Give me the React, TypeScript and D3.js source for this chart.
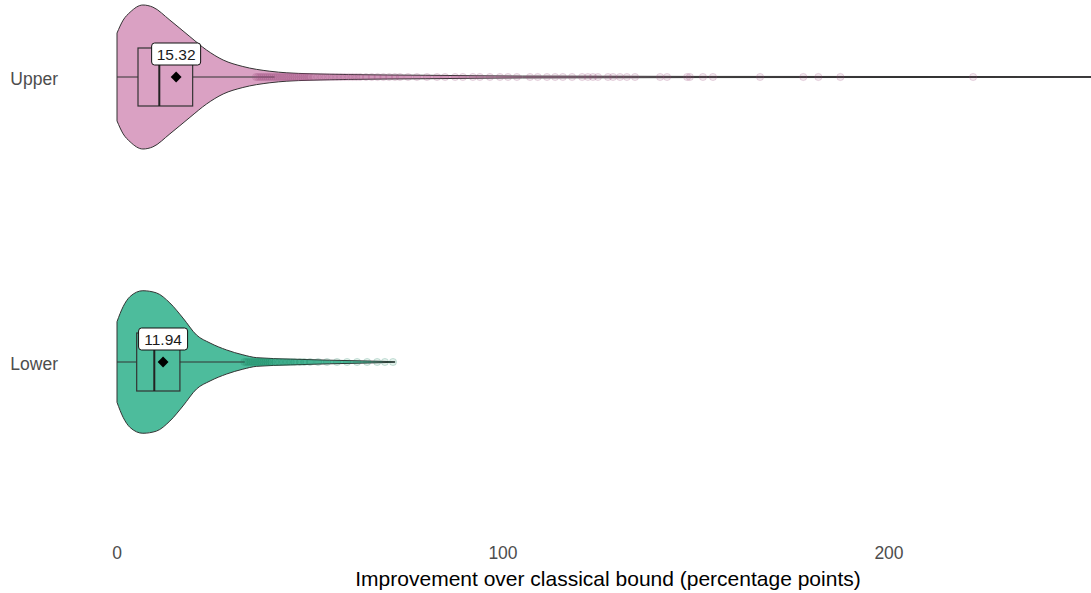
import { useEffect, useRef } from 'react';
import * as d3 from 'd3';

// groups, top to bottom
const groups = ['Upper', 'Lower'];
const fills = ['#daa1c3', '#4dbc9c'];
const pointColors = ['#9b4a7b', '#17805f'];

// density profiles: [improvement, relative density]
const upperDensity: [number, number][] = [
  [0, 0.61], [1.6, 0.79], [3.4, 0.9], [6.7, 1.0], [9.3, 0.97], [13.7, 0.79],
  [18.9, 0.56], [23.2, 0.375], [27.5, 0.236], [32.6, 0.146], [39.6, 0.08],
  [44, 0.058], [50, 0.045], [60, 0.034], [80, 0.024], [105, 0.013],
  [150, 0.008], [260, 0.006],
];
const lowerDensity: [number, number][] = [
  [0, 0.56], [1.6, 0.77], [3.4, 0.91], [6.7, 0.99], [10.2, 0.96], [13.7, 0.82],
  [17.1, 0.61], [20.6, 0.375], [24.1, 0.264], [28.4, 0.167], [32.6, 0.1],
  [36.2, 0.06], [45, 0.04], [55, 0.025], [65, 0.014], [72, 0.004],
];

// box stats [min, q1, median, q3]
const upperBox = [0, 5.44, 10.96, 19.6];
const lowerBox = [0, 5.1, 9.66, 16.3];
const means = [15.32, 11.94];

// outlying observations
const upperPoints = [
  36, 36.5, 37, 37.5, 38, 38.5, 39, 39.5, 40, 40.5, 41, 41.5, 42, 42.5, 43,
  43.5, 44, 44.5, 45, 45.5, 46, 46.5, 47, 47.5, 48, 48.5, 49, 49.5, 50, 51, 52,
  53, 54, 55, 56, 57, 58, 59, 60, 61, 62, 63, 64.5, 66, 67.5, 69, 70.5, 72,
  73.3, 75.4, 77.7, 80.3, 82.9, 85, 87.6, 89.6, 92.2, 94, 96.6, 99.2, 101.3,
  103.6, 107, 109, 111.4, 113.5, 115.5, 117.9, 120.5, 122, 123.3, 124.6, 127.2,
  128.5, 130.3, 132.1, 134.2, 140.7, 142.5, 147.7, 148.4, 151.8, 154.4, 166.6,
  177.8, 181.7, 187.4, 221.8,
];
const lowerPoints = [
  33, 33.5, 34, 34.5, 35, 35.5, 36, 36.5, 37, 37.5, 38, 38.5, 39, 39.5, 40, 41,
  42, 43, 44, 45, 46, 47.4, 48.5, 50, 52.1, 54.4, 57, 59.6, 62.2, 64.8, 67.4,
  69.4, 71.5,
];

const xTicks = [0, 100, 200];
const xTitle = 'Improvement over classical bound (percentage points)';

const FONT = '"Liberation Sans", Arial, sans-serif';

export default function App() {
  const svgRef = useRef<SVGSVGElement>(null);

  useEffect(() => {
    if (!svgRef.current) return;
    const width = 1091;
    const height = 593;

    const svg = d3.select(svgRef.current);
    svg.selectAll('*').remove();
    svg.attr('width', width).attr('height', height);

    const xScale = d3.scaleLinear().domain([0, 200]).range([117, 889]);
    const yScale = d3.scalePoint<string>().domain(groups).range([77, 362]);
    const wScale = d3.scaleLinear().domain([0, 1]).range([0, 72]);
    const boxHalf = 29;

    const densities = [upperDensity, lowerDensity];
    const boxes = [upperBox, lowerBox];
    const points = [upperPoints, lowerPoints];

    groups.forEach((grp, i) => {
      const cy = yScale(grp)!;
      const g = svg.append('g');

      // Violin
      const area = d3.area<[number, number]>()
        .x((d) => xScale(d[0]))
        .y0((d) => cy - wScale(d[1]))
        .y1((d) => cy + wScale(d[1]))
        .curve(d3.curveMonotoneX);

      g.append('path')
        .datum(densities[i])
        .attr('d', area)
        .attr('fill', fills[i])
        .attr('stroke', '#333333')
        .attr('stroke-width', 1);

      // Box
      const [mn, q1, med, q3] = boxes[i];
      const iqr = q3 - q1;
      const whiskerHi = q3 + 1.5 * iqr;

      g.append('line')
        .attr('x1', xScale(mn)).attr('x2', xScale(q1))
        .attr('y1', cy).attr('y2', cy)
        .attr('stroke', '#333333').attr('stroke-width', 1);
      g.append('line')
        .attr('x1', xScale(q3)).attr('x2', xScale(whiskerHi))
        .attr('y1', cy).attr('y2', cy)
        .attr('stroke', '#333333').attr('stroke-width', 1);
      g.append('rect')
        .attr('x', xScale(q1))
        .attr('y', cy - boxHalf)
        .attr('width', xScale(q3) - xScale(q1))
        .attr('height', boxHalf * 2)
        .attr('fill', 'none')
        .attr('stroke', '#333333')
        .attr('stroke-width', 1.2);
      g.append('line')
        .attr('x1', xScale(med)).attr('x2', xScale(med))
        .attr('y1', cy - boxHalf).attr('y2', cy + boxHalf)
        .attr('stroke', '#222222').attr('stroke-width', 2);

      // Outlying points
      g.selectAll('.pt')
        .data(points[i])
        .join('circle')
        .attr('class', 'pt')
        .attr('cx', (d) => xScale(d))
        .attr('cy', cy)
        .attr('r', 3.6)
        .attr('fill', pointColors[i])
        .attr('fill-opacity', 0.13)
        .attr('stroke', pointColors[i])
        .attr('stroke-opacity', 0.2);

      // Mean marker
      const mx = xScale(means[i]);
      g.append('path')
        .attr('d', d3.symbol().type(d3.symbolDiamond2).size(75)())
        .attr('transform', `translate(${mx},${cy})`)
        .attr('fill', '#000');

      // Mean label
      const lw = 49;
      const lh = 22;
      const ly = cy - 23;
      g.append('rect')
        .attr('x', mx - lw / 2)
        .attr('y', ly - lh / 2)
        .attr('width', lw)
        .attr('height', lh)
        .attr('rx', 3)
        .attr('fill', '#fff')
        .attr('stroke', '#111')
        .attr('stroke-width', 1);
      g.append('text')
        .attr('x', mx)
        .attr('y', ly)
        .attr('dy', '0.36em')
        .attr('text-anchor', 'middle')
        .attr('font-family', FONT)
        .attr('font-size', '15.5px')
        .attr('fill', '#1a1a1a')
        .text(means[i].toFixed(2));

      // Category label
      svg.append('text')
        .attr('x', 58)
        .attr('y', cy + 2)
        .attr('dy', '0.36em')
        .attr('text-anchor', 'end')
        .attr('font-family', FONT)
        .attr('font-size', '17.5px')
        .attr('fill', '#4d4d4d')
        .text(grp);
    });

    // X tick labels
    svg.selectAll('.xtick')
      .data(xTicks)
      .join('text')
      .attr('class', 'xtick')
      .attr('x', (d) => xScale(d))
      .attr('y', 553)
      .attr('dy', '0.36em')
      .attr('text-anchor', 'middle')
      .attr('font-family', FONT)
      .attr('font-size', '17.5px')
      .attr('fill', '#4d4d4d')
      .text((d) => d);

    // X title
    svg.append('text')
      .attr('x', 608)
      .attr('y', 578)
      .attr('dy', '0.36em')
      .attr('text-anchor', 'middle')
      .attr('font-family', FONT)
      .attr('font-size', '21px')
      .attr('fill', '#000')
      .text(xTitle);
  }, []);

  return (
    <div style={{ position: 'absolute', left: 0, top: 0, width: 1091, height: 593, overflow: 'hidden', background: '#fff' }}>
      <svg ref={svgRef} style={{ display: 'block' }} />
    </div>
  );
}
